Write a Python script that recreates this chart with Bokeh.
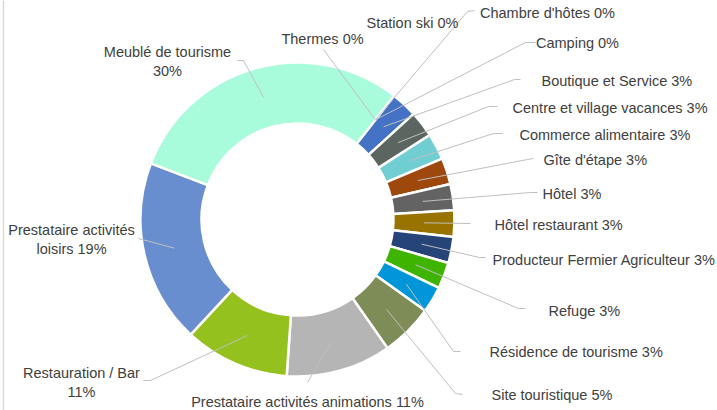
import math
from bokeh.plotting import figure
from bokeh.models import Range1d, ColumnDataSource, Span
from bokeh.embed import file_html
from bokeh.resources import INLINE
from bokeh.core.properties import value

# ---- data (clockwise order) ----
categories = ["Boutique et Service", "Centre et village vacances", "Commerce alimentaire",
              "Gîte d'étape", "Hôtel", "Hôtel restaurant", "Producteur Fermier Agriculteur",
              "Refuge", "Résidence de tourisme", "Site touristique",
              "Prestataire activités animations", "Restauration / Bar",
              "Prestataire activités loisirs", "Meublé de tourisme",
              "Thermes", "Station ski", "Chambre d'hôtes", "Camping"]
counts = [1, 1, 1, 1, 1, 1, 1, 1, 1, 2, 4, 4, 7, 11, 0, 0, 0, 0]
colors = ["#4472C4", "#5C6660", "#70CDD1", "#9E480E", "#636363", "#997300", "#264478",
          "#3EB400", "#0096D8", "#7E8C57", "#B5B5B5", "#95C11F", "#698ED0", "#A8FBDB",
          "#999999", "#999999", "#999999", "#999999"]

# labels that wrap on two lines
label_wrap = {"Meublé de tourisme": "Meublé de tourisme\n{p}%",
              "Prestataire activités loisirs": "Prestataire activités\nloisirs {p}%",
              "Restauration / Bar": "Restauration / Bar\n{p}%"}

# ---- layout (image pixel coordinates) ----
CX, CY = 297, 219
R_OUT, R_IN = 157, 96
START_DEG = 38.0
IMG_W, IMG_H = 717, 410

label_pos = {  # x, y, align
    "Boutique et Service": (541, 80, "left"),
    "Centre et village vacances": (512, 107, "left"),
    "Commerce alimentaire": (519, 134, "left"),
    "Gîte d'étape": (543, 159, "left"),
    "Hôtel": (542, 193, "left"),
    "Hôtel restaurant": (494, 224, "left"),
    "Producteur Fermier Agriculteur": (492, 259, "left"),
    "Refuge": (548, 310, "left"),
    "Résidence de tourisme": (489, 351, "left"),
    "Site touristique": (491, 394, "left"),
    "Prestataire activités animations": (307, 401, "center"),
    "Restauration / Bar": (81, 382, "center"),
    "Prestataire activités loisirs": (71, 239, "center"),
    "Meublé de tourisme": (167, 61, "center"),
    "Thermes": (322, 38, "center"),
    "Station ski": (412, 22, "center"),
    "Chambre d'hôtes": (547, 12, "center"),
    "Camping": (577, 42, "center"),
}
leader_pts = {
    "Boutique et Service": [(520, 79), (514, 79)],
    "Centre et village vacances": [(497, 106), (488, 106)],
    "Commerce alimentaire": [(502, 133), (493, 133)],
    "Gîte d'étape": [(533, 158), (527, 159)],
    "Hôtel": [(537, 192), (530, 192)],
    "Hôtel restaurant": [(470, 223)],
    "Producteur Fermier Agriculteur": [(485, 257), (479, 257)],
    "Refuge": [(525, 308), (518, 308)],
    "Résidence de tourisme": [(460, 351), (453, 351)],
    "Site touristique": [(462, 394), (455, 393)],
    "Prestataire activités animations": [(307, 382)],
    "Restauration / Bar": [(143, 380), (150, 380)],
    "Prestataire activités loisirs": [(138, 238)],
    "Meublé de tourisme": [(237, 60), (243, 60)],
    "Thermes": [(323, 49)],
    "Chambre d'hôtes": [(474, 10), (467, 11)],
    "Camping": [(535, 42), (525, 42)],
}

total = sum(counts)
p = figure(width=IMG_W, height=IMG_H, output_backend="svg", toolbar_location=None,
           x_range=Range1d(0, IMG_W), y_range=Range1d(0, IMG_H),
           min_border=0, background_fill_color="white", border_fill_color="white")
p.axis.visible = False
p.grid.visible = False
p.outline_line_color = None

# faint chart-area border on the left
p.add_layout(Span(location=3, dimension="height", line_color="#D9D9D9", line_width=1.5))

cx, cy = CX, IMG_H - CY
ws = dict(x=[], y=[], s=[], e=[], c=[])
lx, ly, lt, la = [], [], [], []
mxs, mys = [], []
acc = 0.0
r_mid = (R_IN + R_OUT) / 2
for name, n, col in zip(categories, counts, colors):
    t0 = START_DEG + 360.0 * acc / total
    acc += n
    t1 = START_DEG + 360.0 * acc / total
    if n > 0:
        ws["x"].append(cx); ws["y"].append(cy)
        ws["s"].append(math.radians(90 - t0)); ws["e"].append(math.radians(90 - t1))
        ws["c"].append(col)
    tm = math.radians(90 - (t0 + t1) / 2)
    ax, ay = cx + r_mid * math.cos(tm), cy + r_mid * math.sin(tm)
    pct = round(100 * n / total)
    txt = label_wrap.get(name, name + " {p}%").format(p=pct)
    x, y, al = label_pos[name]
    lx.append(x); ly.append(IMG_H - y); lt.append(txt); la.append(al)
    if name in leader_pts:
        pts = leader_pts[name]
        mxs.append([q[0] for q in pts] + [ax])
        mys.append([IMG_H - q[1] for q in pts] + [ay])

p.annular_wedge(x="x", y="y", inner_radius=R_IN, outer_radius=R_OUT,
                start_angle="s", end_angle="e", direction="clock",
                fill_color="c", line_color="white", line_width=2.5,
                source=ColumnDataSource(ws))
p.multi_line(xs=mxs, ys=mys, line_color="#BFBFBF", line_width=1)

src = ColumnDataSource(dict(x=lx, y=ly, t=lt, a=la))
p.text(x="x", y="y", text="t", text_align="a", text_baseline="middle",
       text_font=value("Liberation Sans"), text_font_size="14.5px",
       text_color="#404040", text_line_height=1.2, source=src)

open("out.html", "w").write(file_html(p, INLINE))
